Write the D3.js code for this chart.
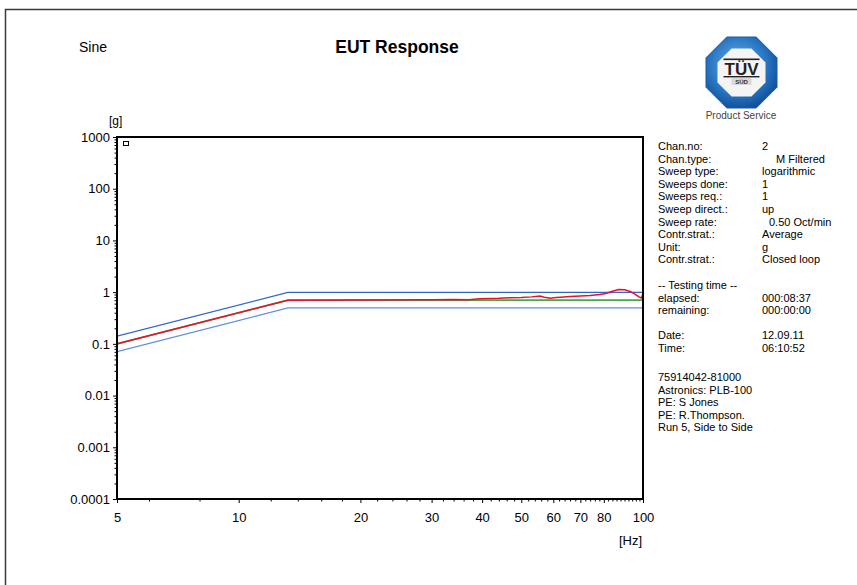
<!DOCTYPE html>
<html>
<head>
<meta charset="utf-8">
<script src="https://d3js.org/d3.v7.min.js"></script>
<style>
  body { margin: 0; background: #fff; }
  text { font-family: Arial, "Liberation Sans", sans-serif; }
</style>
</head>
<body>
<script>
// ---- data ----
var xTicks = [5, 10, 20, 30, 40, 50, 60, 70, 80, 100];
var xMinor = [6, 8, 12, 14, 16, 18, 22, 24, 26, 28, 32, 34, 36, 38, 42, 44, 46, 48, 52, 54, 56, 58, 62, 64, 66, 68, 72, 74, 76, 78, 82, 84, 86, 88, 90, 92, 94, 96, 98];
var yTicks = [0.0001, 0.001, 0.01, 0.1, 1, 10, 100, 1000];
var yTickLabels = ["0.0001", "0.001", "0.01", "0.1", "1", "10", "100", "1000"];

// reference profile (green) and the +/-3 dB abort limits (blue)
var refFreq = [5, 13.23, 100];
var refG = [0.1, 0.7, 0.7];
var upperG = [0.141, 0.99, 0.99];
var lowerG = [0.0707, 0.495, 0.495];

// measured response (red)
var respFreq = [5, 13.23, 20, 30, 34, 37, 39.5, 42, 44, 46.8, 50, 53, 55.6, 57, 59, 61, 62.5, 66, 70, 74, 78, 81, 84, 87, 90, 93, 95.5, 97.5, 99, 99.6, 100];
var respG = [0.1, 0.7, 0.705, 0.71, 0.72, 0.715, 0.745, 0.755, 0.76, 0.78, 0.79, 0.81, 0.84, 0.8, 0.765, 0.785, 0.8, 0.82, 0.84, 0.865, 0.9, 0.94, 1.04, 1.12, 1.11, 1.03, 0.92, 0.82, 0.77, 0.86, 0.81];

var infoLabels = ["Chan.no:", "Chan.type:", "Sweep type:", "Sweeps done:", "Sweeps req.:", "Sweep direct.:", "Sweep rate:", "Contr.strat.:", "Unit:", "Contr.strat.:"];
var infoValues = ["2", "M Filtered", "logarithmic", "1", "1", "up", "0.50 Oct/min", "Average", "g", "Closed loop"];
var timeLabels = ["-- Testing time --", "elapsed:", "remaining:", "", "Date:", "Time:"];
var timeValues = ["", "000:08:37", "000:00:00", "", "12.09.11", "06:10:52"];
var notes = ["75914042-81000", "Astronics: PLB-100", "PE: S Jones", "PE: R.Thompson.", "Run 5, Side to Side"];

var W = 857, H = 585;
var pL = 117, pR = 643, pT = 137, pB = 499;
var valueIndent = {1: 14, 6: 7};   // the report right-pads some values

var svg = d3.select("body").append("svg").attr("width", W).attr("height", H);

// page frame (top and left edges)
svg.append("path").attr("d", "M5.5," + H + "V9.5H" + W).attr("fill", "none").attr("stroke", "#3a3a3a").attr("stroke-width", 1.5);

var xScale = d3.scaleLog().domain([5, 100]).range([pL, pR]);
var yScale = d3.scaleLog().domain([0.0001, 1000]).range([pB, pT]);

// titles
svg.append("text").attr("x", 79).attr("y", 52).style("font-size", "14px").text("Sine");
svg.append("text").attr("x", 397).attr("y", 53).attr("text-anchor", "middle").style("font-size", "17.5px").style("font-weight", "bold").text("EUT Response");
svg.append("text").attr("x", 109).attr("y", 125).style("font-size", "12px").text("[g]");
svg.append("text").attr("x", 642).attr("y", 545).attr("text-anchor", "end").style("font-size", "13px").text("[Hz]");

// axes
var yAxis = d3.axisLeft(yScale).tickValues(yTicks).tickSize(4).tickPadding(3)
  .tickFormat(function(d, i) { return yTickLabels[i]; });
var yMinorVals = [];
yTicks.slice(0, -1).forEach(function(d) { for (var k = 2; k < 10; k++) yMinorVals.push(d * k); });
var yAxisMinor = d3.axisLeft(yScale).tickValues(yMinorVals).tickSize(2.5).tickFormat("");

var xAxis = d3.axisBottom(xScale).tickValues(xTicks).tickSize(4).tickPadding(10).tickFormat(d3.format("d"));
var xAxisMinor = d3.axisBottom(xScale).tickValues(xMinor).tickSize(2.5).tickFormat("");

function styleAxis(g) {
  g.select(".domain").remove();
  g.selectAll("line").attr("stroke", "#000").attr("stroke-width", 1);
  g.selectAll("text").attr("fill", "#000").style("font-size", "13px").style("font-family", "Arial, 'Liberation Sans', sans-serif");
}
svg.append("g").attr("transform", "translate(" + pL + ",0)").call(yAxisMinor).call(styleAxis);
svg.append("g").attr("transform", "translate(" + pL + ",0)").call(yAxis).call(styleAxis);
svg.append("g").attr("transform", "translate(0," + pB + ")").call(xAxisMinor).call(styleAxis);
svg.append("g").attr("transform", "translate(0," + pB + ")").call(xAxis).call(styleAxis);

// plot lines
svg.append("clipPath").attr("id", "clip").append("rect")
  .attr("x", pL).attr("y", pT).attr("width", pR - pL).attr("height", pB - pT);

var line = d3.line().x(function(d) { return xScale(d[0]); }).y(function(d) { return yScale(d[1]); });
function pairs(xs, ys) { return xs.map(function(x, i) { return [x, ys[i]]; }); }

var plot = svg.append("g").attr("clip-path", "url(#clip)");
plot.append("path").attr("d", line(pairs(refFreq, upperG))).attr("fill", "none").attr("stroke", "#2f66cc").attr("stroke-width", 1.2);
plot.append("path").attr("d", line(pairs(refFreq, lowerG))).attr("fill", "none").attr("stroke", "#5f8fdc").attr("stroke-width", 1.2);
plot.append("path").attr("d", line(pairs(refFreq, refG))).attr("fill", "none").attr("stroke", "#4aa84a").attr("stroke-width", 1.6);
plot.append("path").attr("d", line(pairs(respFreq, respG))).attr("fill", "none").attr("stroke", "#e8102e").attr("stroke-width", 1.5);

// frame
svg.append("rect").attr("x", pL).attr("y", pT).attr("width", pR - pL).attr("height", pB - pT)
  .attr("fill", "none").attr("stroke", "#000").attr("stroke-width", 2);
svg.append("rect").attr("x", 123.5).attr("y", 141.5).attr("width", 5).attr("height", 4)
  .attr("fill", "none").attr("stroke", "#000").attr("stroke-width", 1);

// info panel
var info = svg.append("g").style("font-size", "11px");
infoLabels.forEach(function(t, i) {
  info.append("text").attr("x", 658).attr("y", 150 + i * 12.6).text(t);
  info.append("text").attr("x", 762 + (valueIndent[i] || 0)).attr("y", 150 + i * 12.6).text(infoValues[i]);
});
timeLabels.forEach(function(t, i) {
  info.append("text").attr("x", 658).attr("y", 289 + i * 12.6).text(t);
  info.append("text").attr("x", 762).attr("y", 289 + i * 12.6).text(timeValues[i]);
});
notes.forEach(function(t, i) {
  info.append("text").attr("x", 658).attr("y", 381 + i * 12.6).text(t);
});

// TUV SUD logo
var logo = svg.append("g").attr("transform", "translate(741.5,72.5)");
var grad = svg.append("defs").append("radialGradient").attr("id", "tuvgrad").attr("cx", "45%").attr("cy", "40%").attr("r", "65%");
grad.append("stop").attr("offset", "0%").attr("stop-color", "#6fb0e8");
grad.append("stop").attr("offset", "60%").attr("stop-color", "#2a78c4");
grad.append("stop").attr("offset", "100%").attr("stop-color", "#0d4a96");
function octagon(r) {
  var R = r / Math.cos(Math.PI / 8), pts = [];
  for (var k = 0; k < 8; k++) {
    var a = Math.PI / 8 + k * Math.PI / 4;
    pts.push([R * Math.cos(a), R * Math.sin(a)]);
  }
  return "M" + pts.join("L") + "Z";
}
logo.append("path").attr("d", octagon(35.5)).attr("fill", "url(#tuvgrad)").attr("stroke", "#1a5aa8").attr("stroke-width", 1).attr("stroke-linejoin", "round");
logo.append("path").attr("d", octagon(24)).attr("fill", "#f4f4f4");
logo.append("rect").attr("x", -18).attr("y", -14).attr("width", 36).attr("height", 1.6).attr("fill", "#222");
logo.append("text").attr("x", 0).attr("y", 2).attr("text-anchor", "middle").style("font-size", "16px").style("font-weight", "bold")
  .attr("textLength", 34).attr("lengthAdjust", "spacingAndGlyphs").attr("fill", "#222").text("TÜV");
logo.append("rect").attr("x", -18).attr("y", 3.5).attr("width", 36).attr("height", 1.4).attr("fill", "#222");
logo.append("rect").attr("x", -10).attr("y", 5.5).attr("width", 20).attr("height", 7).attr("fill", "#d8d8d8");
logo.append("text").attr("x", 0).attr("y", 11.5).attr("text-anchor", "middle").style("font-size", "6px").style("font-weight", "bold")
  .attr("fill", "#333").text("SÜD");
svg.append("text").attr("x", 741).attr("y", 118.5).attr("text-anchor", "middle").style("font-size", "10px").attr("fill", "#444").text("Product Service");
</script>
</body>
</html>
